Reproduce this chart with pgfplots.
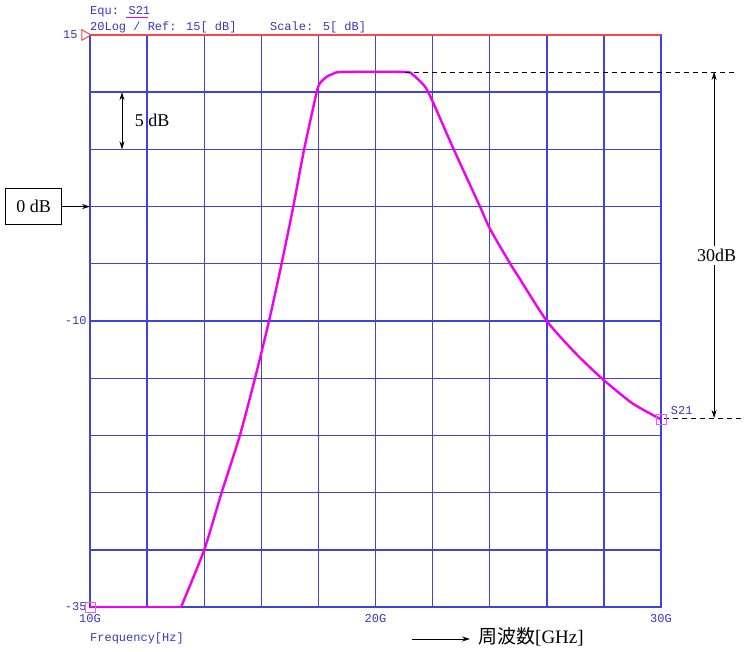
\documentclass[border=0pt]{standalone}
\usepackage{fontspec}
\setmainfont{Liberation Serif}
\newfontfamily\monof{Liberation Mono}
\newfontfamily\cjk{Noto Sans CJK JP}
\usepackage{pgfplots}
\pgfplotsset{compat=1.18}
\usetikzlibrary{arrows.meta}
\definecolor{gridblue}{RGB}{65,65,220}
\definecolor{txtblue}{RGB}{55,55,195}
\definecolor{curvec}{RGB}{240,0,240}
\definecolor{refred}{RGB}{250,70,70}
\begin{document}
\begin{tikzpicture}
\begin{axis}[
  scale only axis, width=571pt, height=572pt,
  xmin=10, xmax=30, ymin=-35, ymax=15,
  xtick={10,12,...,30}, xticklabels={10G,,,,,20G,,,,,30G},
  ytick={-35,-30,...,10}, yticklabels={-35,,,,,-10,,,,},
  extra y ticks={15}, extra y tick labels={15},
  extra y tick style={grid=none, yticklabel style={xshift=-9pt}},
  major tick length=0pt,
  grid=major, grid style={gridblue, line width=1.4pt},
  axis line style={gridblue, line width=1.4pt},
  tick label style={font=\monof\fontsize{12}{14}\selectfont, text=txtblue},
  xticklabel style={yshift=-4pt},
  clip=false,
]
\addplot[refred, line width=1.5pt] coordinates {(10,15) (30,15)};
\addplot[curvec, line width=2.4pt] coordinates {(10,-35) (13.19,-35)};
\addplot[curvec, line width=2.4pt, smooth, tension=0.4] coordinates {
(13.19,-35) (14.0,-30) (14.61,-25) (15.25,-20) (15.78,-15) (16.27,-10)
(16.71,-5) (17.12,0) (17.5,5) (17.94,10) (18.06,10.8) (18.29,11.35) (18.51,11.6)
(18.82,11.77) (21.03,11.77) (21.32,11.5) (21.73,10.5) (22.0,9.2) (22.74,5)
(23.66,0) (24.0,-1.9) (24.72,-5) (25.0,-6.1) (26.0,-10) (27.0,-12.8) (27.92,-15)
(29.0,-17.2) (30,-18.6)};
\addplot[only marks, mark=square, mark size=5pt, mark options={draw=curvec!65, line width=0.9pt}] coordinates {(10,-35) (30,-18.6)};
\addplot[only marks, mark=triangle, mark size=6pt, mark options={draw=refred, line width=1pt, xshift=-5pt, rotate=-90}] coordinates {(10,15)};

% 5 dB
\draw[{Stealth[length=8pt,width=5pt]}-{Stealth[length=8pt,width=5pt]}, line width=0.8pt] (axis cs:11.12,10) -- (axis cs:11.12,5);
\node[anchor=west, font=\fontsize{18}{20}\selectfont] at (axis cs:11.45,7.5) {5 dB};
% 0 dB
\node[draw, line width=0.9pt, anchor=east, minimum width=56pt, minimum height=36pt, inner sep=0pt, font=\fontsize{18}{20}\selectfont] (zb) at (axis cs:9.02,0) {0 dB};
\draw[-{Stealth[length=8pt,width=5pt]}, line width=0.8pt] (zb.east) -- (axis cs:10,0);
% 30 dB
\draw[dash pattern=on 5pt off 4pt, line width=0.8pt] (axis cs:21.03,11.77) -- (axis cs:32.6,11.77);
\draw[dash pattern=on 5pt off 4pt, line width=0.8pt] (axis cs:30.1,-18.48) -- (axis cs:32.87,-18.48);
\draw[{Stealth[length=8pt,width=5pt]}-{Stealth[length=8pt,width=5pt]}, line width=0.8pt] (axis cs:31.86,11.77) -- (axis cs:31.86,-18.48);
\node[fill=white, inner sep=3pt, font=\fontsize{18}{20}\selectfont] at (axis cs:31.95,-4.3) {30dB};
% S21 marker label
\node[anchor=west, inner sep=0pt, font=\monof\fontsize{12}{14}\selectfont, text=txtblue] at (axis cs:30.34,-17.87) {S21};
% header
\node[anchor=base west, inner sep=0pt, font=\monof\fontsize{12}{14}\selectfont, text=txtblue] at ([yshift=20pt]axis cs:10,15) {Equ: S21};
\draw[curvec, line width=1pt] ([xshift=36pt, yshift=17.5pt]axis cs:10,15) -- ([xshift=57.6pt, yshift=17.5pt]axis cs:10,15);
\node[anchor=base west, inner sep=0pt, font=\monof\fontsize{12}{14}\selectfont, text=txtblue] at ([yshift=4pt]axis cs:10,15) {20Log / Ref: 15[ dB]};
\node[anchor=base west, inner sep=0pt, font=\monof\fontsize{12}{14}\selectfont, text=txtblue] at ([yshift=4pt]axis cs:16.3,15) {Scale: 5[ dB]};
% footer
\node[anchor=base west, inner sep=0pt, font=\monof\fontsize{12}{14}\selectfont, text=txtblue] at ([yshift=-34pt]axis cs:10,-35) {Frequency[Hz]};
\draw[-{Stealth[length=8pt,width=5pt]}, line width=0.8pt] ([yshift=-32pt]axis cs:21.27,-35) -- ([yshift=-32pt]axis cs:23.31,-35);
\node[anchor=west, inner sep=0pt, font=\fontsize{19}{21}\selectfont] at ([yshift=-30pt]axis cs:23.59,-35) {{\cjk 周波数}[GHz]};
\end{axis}
\pgfresetboundingbox
\useasboundingbox ([xshift=-90pt,yshift=-44pt]current axis.south west) rectangle ([xshift=83pt,yshift=35pt]current axis.north east);
\end{tikzpicture}
\end{document}
